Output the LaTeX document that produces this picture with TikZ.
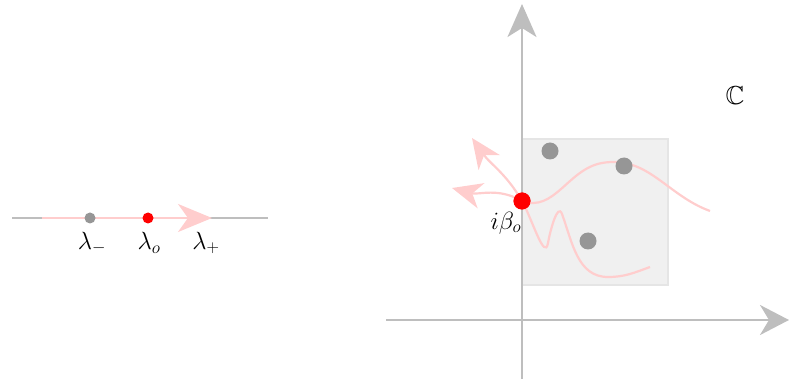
\documentclass[tikz,border=0pt]{standalone}
\usepackage{amsmath}
\usepackage{amssymb}
\usetikzlibrary{arrows.meta}
\usetikzlibrary{calc}

\definecolor{axisgray}{RGB}{190,190,190}
\definecolor{dotgray}{RGB}{150,150,150}
\definecolor{pathpink}{RGB}{255,205,205}

\begin{document}
\begin{tikzpicture}[
			x=1pt, y=-1pt,
			axis/.style={
					draw=axisgray,
					line width=2.5pt
				},
			flow/.style={
					draw=pathpink,
					line width=2.2pt
				},
			dot/.style={
					circle,
					fill=dotgray,
					inner sep=0pt,
					minimum size=11pt
				},
			bigdot/.style={
					circle,
					fill=dotgray,
					inner sep=0pt,
					minimum size=17pt
				},
			lab/.style={
					inner sep=1pt,
					font=\fontsize{24}{28}\selectfont
				}
		]
		\useasboundingbox (0, 0) rectangle (789, 379);

		% real line on the left
		\coordinate (rl) at (12, 218);
		\coordinate (rr) at (268, 218);
		\coordinate (pl) at (42, 218);
		\coordinate (pr) at (212, 218);
		\draw[axis, line width=2pt] (rl) -- (rr);
		\draw[flow, -{Stealth[length=34pt, width=28pt, inset=10pt, fill=pathpink]}] (pl) -- (pr);
		\node[dot] (lm) at (90, 218) {};
		\node[dot, fill=red] (lo) at (148, 218) {};
		\node[lab] (llm) at (92, 243) {$\lambda_-$};
		\node[lab] (llo) at (149, 243) {$\lambda_o$};
		\node[lab] (llp) at (206, 243) {$\lambda_+$};

		% complex plane
		\draw[draw=gray!20, fill=gray!12, line width=1.5pt] (522, 139) rectangle (668, 285);
		\coordinate (vb) at (522, 379);
		\coordinate (vt) at (522, 4);
		\coordinate (hl) at (386, 320);
		\coordinate (hr) at (789, 320);
		\draw[axis, -{Stealth[length=33pt, width=29pt, inset=9pt, fill=axisgray]}] (vb) -- (vt);
		\draw[axis, -{Stealth[length=29pt, width=30pt, inset=9pt, fill=axisgray]}] (hl) -- (hr);
		\node[font=\fontsize{26}{30}\selectfont, inner sep=0pt] (cc) at (735, 96) {$\mathbb{C}$};

		\node[circle, fill=red, inner sep=0pt, minimum size=17pt] (ib) at (522, 201) {};
		\node[font=\fontsize{26}{30}\selectfont, inner sep=0pt] (ibl) at (506, 223) {$i\beta_o$};

		\coordinate (ua) at (602, 163);
		\coordinate (ue) at (710, 211);
		\coordinate (da) at (548, 243);
		\coordinate (db) at (562, 214);
		\coordinate (dc) at (608, 277);
		\coordinate (de) at (650, 267);
		\coordinate (ta) at (472, 138);
		\coordinate (tb) at (452, 188);

		\draw[flow] (ib.center) to[out=-20, in=190] (ua) to[out=10, in=160] (ue);
		\draw[flow] (ib.center) to[out=-60, in=260] (da) to[out=80, in=110] (db)
		to[out=-70, in=180] (dc) to[out=0, in=200] (de);
		\draw[flow, -{Stealth[length=30pt, width=26pt, inset=9pt, fill=pathpink]}]
		(ib.center) to[out=120, in=-55] (ta);
		\draw[flow, -{Stealth[length=30pt, width=26pt, inset=9pt, fill=pathpink]}]
		(ib.center) to[out=150, in=-15] (tb);

		\node[bigdot] (g1) at (550, 151) {};
		\node[bigdot] (g2) at (624, 166) {};
		\node[bigdot] (g3) at (588, 241) {};
		\node[circle, fill=red, inner sep=0pt, minimum size=17pt] at (ib) {};

	\end{tikzpicture}
\end{document}
